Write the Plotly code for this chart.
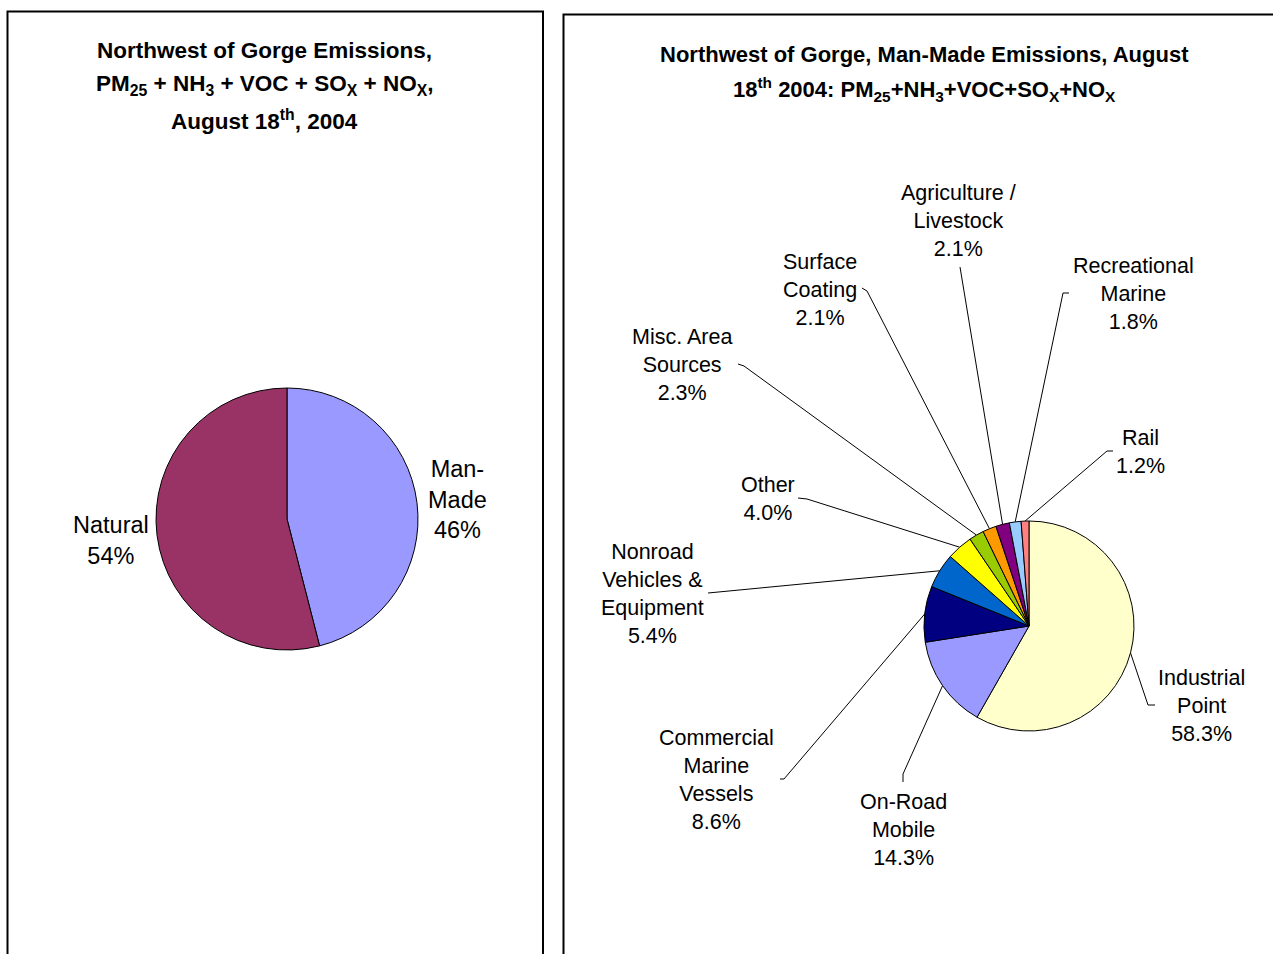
import math
import plotly.graph_objects as go

W, H = 1273, 954

# left chart data
split_names = ["Man-Made", "Natural"]
split_lines = [["Man-", "Made"], ["Natural"]]
split_values = [46, 54]
split_colors = ["#9999FF", "#993366"]

# right chart data
source_names = ["Industrial Point", "On-Road Mobile", "Commercial Marine Vessels",
                "Nonroad Vehicles & Equipment", "Other", "Misc. Area Sources",
                "Surface Coating", "Agriculture / Livestock", "Recreational Marine", "Rail"]
source_lines = [["Industrial", "Point"], ["On-Road", "Mobile"], ["Commercial", "Marine", "Vessels"],
                ["Nonroad", "Vehicles &", "Equipment"], ["Other"], ["Misc. Area", "Sources"],
                ["Surface", "Coating"], ["Agriculture /", "Livestock"], ["Recreational", "Marine"], ["Rail"]]
source_values = [58.3, 14.3, 8.6, 5.4, 4.0, 2.3, 2.1, 2.1, 1.8, 1.2]
source_colors = ["#FFFFCC", "#9999FF", "#000080", "#0066CC", "#FFFF00",
                 "#99CC00", "#FF9900", "#800080", "#99CCFF", "#FF8080"]

# layout (pixels)
left_pie = (287, 519, 131)
right_pie = (1029, 626, 105)
left_label_pos = [(457, 499), (111, 540)]
right_label_pos = [(1201, 706), (903, 830), (716, 780), (652, 594), (768, 499),
                   (682, 365), (820, 290), (958, 221), (1133, 294), (1140, 452)]
# leader line points on the label side
right_leader = [[(1155, 705), (1148, 705)], [(903, 782), (903, 774)], [(780, 779), (784, 779)],
                [(708, 593)], [(798, 498), (807, 499)], [(738, 364), (744, 366)],
                [(862, 288), (867, 291)], [(960, 267)], [(1069, 293), (1063, 293)],
                [(1113, 451), (1107, 451)]]

FONT = "Liberation Sans, Arial, sans-serif"


def domain(cx, cy, r):
    return dict(x=[(cx - r) / W, (cx + r) / W], y=[1 - (cy + r) / H, 1 - (cy - r) / H])


def arc_points(values, cx, cy, r):
    total = sum(values)
    pts = []
    acc = 0
    for v in values:
        mid = (acc + v / 2) / total * 2 * math.pi
        pts.append((cx + r * math.sin(mid), cy - r * math.cos(mid)))
        acc += v
    return pts


fig = go.Figure()

fig.add_trace(go.Pie(labels=split_names, values=split_values, sort=False, direction="clockwise",
                     rotation=0, textinfo="none", hoverinfo="label+percent", showlegend=False,
                     marker=dict(colors=split_colors, line=dict(color="black", width=1)),
                     domain=domain(*left_pie)))
fig.add_trace(go.Pie(labels=source_names, values=source_values, sort=False, direction="clockwise",
                     rotation=0, textinfo="none", hoverinfo="label+percent", showlegend=False,
                     marker=dict(colors=source_colors, line=dict(color="black", width=1)),
                     domain=domain(*right_pie)))

# leader lines
arcs = arc_points(source_values, *right_pie)
for pts, end in zip(right_leader, arcs):
    xs = [p[0] for p in pts] + [end[0]]
    ys = [p[1] for p in pts] + [end[1]]
    fig.add_trace(go.Scatter(x=xs, y=ys, mode="lines", line=dict(color="black", width=1),
                             hoverinfo="skip", showlegend=False))

ann = []
for lines, v, (x, y) in zip(split_lines, split_values, left_label_pos):
    ann.append(dict(x=x, y=y, xref="x", yref="y", text="<br>".join(lines + [f"{v:.0f}%"]),
                    showarrow=False, font=dict(family=FONT, size=23.5, color="black"),
                    xanchor="center", yanchor="middle"))
for lines, v, (x, y) in zip(source_lines, source_values, right_label_pos):
    ann.append(dict(x=x, y=y, xref="x", yref="y", text="<br>".join(lines + [f"{v:.1f}%"]),
                    showarrow=False, font=dict(family=FONT, size=21.5, color="black"),
                    xanchor="center", yanchor="middle"))

left_title = ["Northwest of Gorge Emissions,",
              "PM<sub>25</sub> + NH<sub>3</sub> + VOC + SO<sub>X</sub> + NO<sub>X</sub>,",
              "August 18<sup>th</sup>, 2004"]
right_title = ["Northwest of Gorge, Man-Made Emissions, August",
               "18<sup>th</sup> 2004: PM<sub>25</sub>+NH<sub>3</sub>+VOC+SO<sub>X</sub>+NO<sub>X</sub>"]
for i, t in enumerate(left_title):
    ann.append(dict(x=264, y=50 + 35 * i, xref="x", yref="y", text=f"<b>{t}</b>", showarrow=False,
                    font=dict(family=FONT, size=22.5, color="black"), xanchor="center", yanchor="middle"))
for i, t in enumerate(right_title):
    ann.append(dict(x=924, y=54 + 35 * i, xref="x", yref="y", text=f"<b>{t}</b>", showarrow=False,
                    font=dict(family=FONT, size=22, color="black"), xanchor="center", yanchor="middle"))

shapes = [
    dict(type="rect", xref="x", yref="y", x0=7.5, y0=11.5, x1=543, y1=1000,
         line=dict(color="black", width=2)),
    dict(type="rect", xref="x", yref="y", x0=563.5, y0=14.5, x1=1300, y1=1000,
         line=dict(color="black", width=2)),
]

fig.update_layout(
    width=W, height=H, margin=dict(l=0, r=0, t=0, b=0),
    paper_bgcolor="white", plot_bgcolor="rgba(0,0,0,0)",
    xaxis=dict(range=[0, W], visible=False, fixedrange=True),
    yaxis=dict(range=[H, 0], visible=False, fixedrange=True),
    annotations=ann, shapes=shapes, showlegend=False,
)

# drop the browser's default page margin so the figure sits at the top-left corner
fig.write_html("out.html", config={"displayModeBar": False},
               post_script="document.body.style.margin='0';")
